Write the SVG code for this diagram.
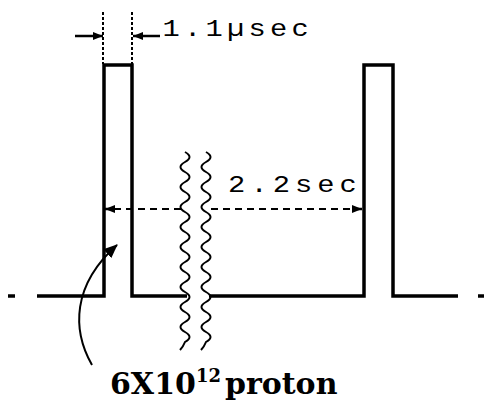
<svg xmlns="http://www.w3.org/2000/svg" width="484" height="406" viewBox="0 0 484 406">
  <style>
    .sig { fill: none; stroke: #000; stroke-width: 3.5; stroke-linejoin: miter; }
    .wave { fill: none; stroke: #000; stroke-width: 2; }
    .dash { fill: none; stroke: #000; stroke-width: 2; stroke-dasharray: 3 2; }
    .dimdash { fill: none; stroke: #000; stroke-width: 2.2; stroke-dasharray: 7 5; }
    .solid { fill: none; stroke: #000; stroke-width: 2.5; }
    .mono { font-family: "Liberation Mono", "DejaVu Sans Mono", monospace; font-size: 23px; fill: #000; }
    .bold { font-family: "DejaVu Serif", "Liberation Serif", serif; font-weight: bold; fill: #000; }
  </style>
  <defs>
    <marker id="ah" viewBox="0 0 10 8" refX="10" refY="4" markerWidth="10" markerHeight="8" markerUnits="userSpaceOnUse" orient="auto">
      <path d="M0,0 L10,4 L0,8 Z" fill="#000"/>
    </marker>
    <marker id="ahc" viewBox="0 0 14 12" refX="13" refY="6" markerWidth="14" markerHeight="12" markerUnits="userSpaceOnUse" orient="auto">
      <path d="M0,0 L14,6 L0,12 Z" fill="#000"/>
    </marker>
  </defs>

  <g id="signal">
    <path class="sig" d="M37,296 H104 V65 H132 V296 H187"/>
    <path class="sig" d="M209,296 H364 V65 H393 V296 H458"/>
    <path class="sig" d="M8,296 H15"/>
    <path class="sig" d="M478,296 H484"/>
  </g>

  <g id="break">
    <path class="wave" d="M182,152 q9,5 0,10 t0,10 t0,10 t0,10 t0,10 t0,10 t0,10 t0,10 t0,10 t0,10 t0,10 t0,10 t0,10 t0,10 t0,10 t0,10 t0,10 t0,10 t0,10 q-2,5 -5,8" transform="translate(3,0)"/>
    <path class="wave" d="M182,152 q9,5 0,10 t0,10 t0,10 t0,10 t0,10 t0,10 t0,10 t0,10 t0,10 t0,10 t0,10 t0,10 t0,10 t0,10 t0,10 t0,10 t0,10 t0,10 t0,10 q-2,5 -5,8" transform="translate(24,0)"/>
  </g>

  <g id="connectors">
    <line class="dash" x1="103" y1="12" x2="103" y2="64"/>
    <line class="dash" x1="132" y1="12" x2="132" y2="64"/>
    <line class="solid" x1="75" y1="36" x2="103" y2="36" marker-end="url(#ah)"/>
    <line class="solid" x1="160" y1="36" x2="133" y2="36" marker-end="url(#ah)"/>
    <path class="dimdash" d="M114,209 H185 M211,209 H352"/>
    <line class="solid" x1="114" y1="209" x2="105" y2="209" marker-end="url(#ah)"/>
    <line class="solid" x1="352" y1="209" x2="362" y2="209" marker-end="url(#ah)"/>
    <path class="solid" style="stroke-width:2" d="M92,365 C72,330 72,285 117,245" marker-end="url(#ahc)"/>
  </g>

  <g id="label-width" transform="scale(1.25,1)">
    <text class="mono" x="130" y="36" textLength="117" lengthAdjust="spacing">1.1µsec</text>
  </g>
  <g id="label-period" transform="scale(1.25,1)">
    <text class="mono" x="182.5" y="192" textLength="103" lengthAdjust="spacing">2.2sec</text>
  </g>
  <g id="label-protons">
    <text class="bold" x="110" y="394" font-size="30">6X10<tspan font-size="18" dy="-12">12</tspan><tspan dy="12" dx="4">proton</tspan></text>
  </g>
</svg>
